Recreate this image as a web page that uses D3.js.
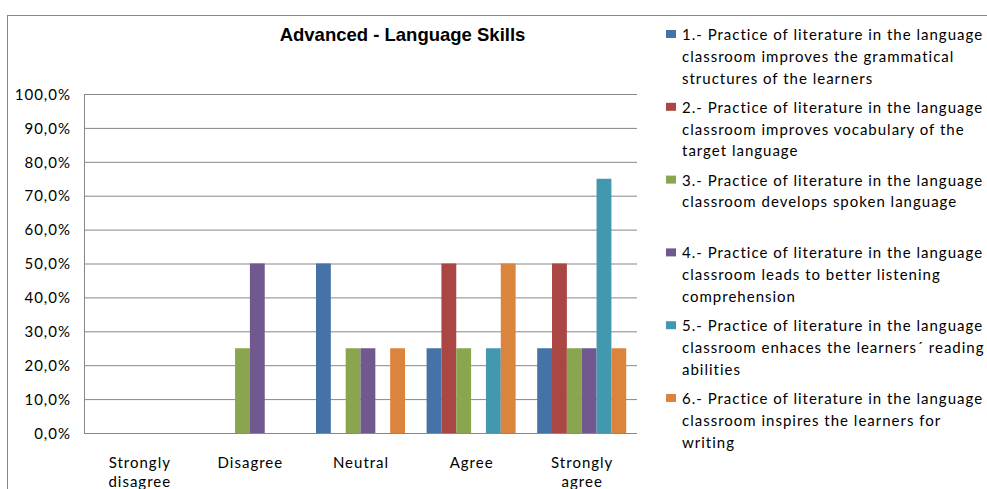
<!DOCTYPE html>
<html>
<head>
<meta charset="utf-8">
<script src="https://cdn.jsdelivr.net/npm/d3@7"></script>
<style>
  body { margin: 0; background: #fff; }
  svg { display: block; }
  .axis text { font-family: Lato, "Open Sans", sans-serif; font-size: 15px; fill: #000; }
  .axis .domain { display: none; }
  .grid line { stroke: #878787; }
  .legend text { font-family: Lato, "Open Sans", sans-serif; font-size: 15px; fill: #000; letter-spacing: 1px; }
  .title { font-family: Arial, "Liberation Sans", sans-serif; font-weight: bold; font-size: 18.5px; fill: #000; }
</style>
</head>
<body>
<svg id="chart" width="987" height="489"></svg>
<script>
// chart data
const categories = ["Strongly disagree", "Disagree", "Neutral", "Agree", "Strongly agree"];
const categoryLines = [["Strongly", "disagree"], ["Disagree"], ["Neutral"], ["Agree"], ["Strongly", "agree"]];

const s1 = [0, 0, 0.50, 0.25, 0.25];
const s2 = [0, 0, 0, 0.50, 0.50];
const s3 = [0, 0.25, 0.25, 0.25, 0.25];
const s4 = [0, 0.50, 0.25, 0, 0.25];
const s5 = [0, 0, 0, 0.25, 0.75];
const s6 = [0, 0, 0.25, 0.50, 0.25];
const seriesValues = [s1, s2, s3, s4, s5, s6];

const seriesColors = ["#4572A7", "#AA4643", "#89A54E", "#71588F", "#4198AF", "#DB843D"];

const legendLines = [
    ["1.- Practice of literature in the language", "classroom improves the grammatical", "structures of the learners"],
    ["2.- Practice of literature in the language", "classroom improves vocabulary of the", "target language"],
    ["3.- Practice of literature in the language", "classroom develops spoken language"],
    ["4.- Practice of literature in the language", "classroom leads to better listening", "comprehension"],
    ["5.- Practice of literature in the language", "classroom enhaces the learners\u00B4 reading", "abilities"],
    ["6.- Practice of literature in the language", "classroom inspires the learners for", "writing"]
];

const yTicks = [0, 0.1, 0.2, 0.3, 0.4, 0.5, 0.6, 0.7, 0.8, 0.9, 1.0];

// layout
const plot = {left: 84, right: 637, top: 94, bottom: 433};
const w = plot.right - plot.left, h = plot.bottom - plot.top;

const svg = d3.select("#chart");

// outer frame (runs past the window on right and bottom)
svg.append("rect")
    .attr("x", 7.5).attr("y", 15.5)
    .attr("width", 1100).attr("height", 600)
    .attr("fill", "none")
    .attr("stroke", "#878787");

svg.append("text")
    .attr("class", "title")
    .attr("x", 402.5).attr("y", 41)
    .attr("text-anchor", "middle")
    .text("Advanced - Language Skills");

const g = svg.append("g").attr("transform", `translate(${plot.left},${plot.top})`);

const x0 = d3.scaleBand()
    .domain(categories)
    .range([0, w])
    .paddingInner(0.195)
    .paddingOuter(0.0975);

const x1 = d3.scaleBand()
    .domain(d3.range(seriesValues.length))
    .range([0, x0.bandwidth()]);

const y = d3.scaleLinear().domain([0, 1]).range([h, 0]);

const locale = d3.formatLocale({decimal: ",", thousands: ".", grouping: [3], currency: ["", "\u20AC"]});
const pct = locale.format(".1%");

// y axis with gridlines
g.append("g")
    .attr("class", "axis grid")
    .call(d3.axisLeft(y).tickValues(yTicks).tickFormat(pct)
        .tickSizeInner(-w).tickSizeOuter(0).tickPadding(14))
    .call(a => a.selectAll("text").attr("dy", "0.35em").style("letter-spacing", "1px").attr("dx", "1px"));

// left axis line
g.append("line")
    .attr("x1", 0.5).attr("x2", 0.5)
    .attr("y1", 0).attr("y2", h)
    .attr("stroke", "#878787");

// bars
const rows = [];
categories.forEach((c, ci) => {
    seriesValues.forEach((vals, si) => {
        rows.push({cat: c, series: si, value: vals[ci]});
    });
});

g.append("g").selectAll("rect")
    .data(rows.filter(d => d.value > 0))
    .join("rect")
    .attr("x", d => x0(d.cat) + x1(d.series))
    .attr("y", d => y(d.value))
    .attr("width", x1.bandwidth())
    .attr("height", d => h - y(d.value))
    .attr("fill", d => seriesColors[d.series]);

// category labels
const xa = g.append("g").attr("class", "axis");
xa.selectAll("text")
    .data(categories)
    .join("text")
    .attr("text-anchor", "middle")
    .style("letter-spacing", "1px")
    .attr("transform", d => `translate(${x0(d) + x0.bandwidth() / 2 + 0.5},${h + 34.5})`)
    .each(function(d, i) {
        d3.select(this).selectAll("tspan")
            .data(categoryLines[i])
            .join("tspan")
            .attr("x", 0)
            .attr("y", (t, k) => k * 19.5)
            .text(t => t);
    });

// legend
const legend = svg.append("g").attr("class", "legend")
    .attr("transform", "translate(666,40)");

const item = legend.selectAll("g")
    .data(legendLines)
    .join("g")
    .attr("transform", (d, i) => `translate(0,${i * 72.8})`);

item.append("rect")
    .attr("x", 0).attr("y", -10)
    .attr("width", 10).attr("height", 8)
    .attr("fill", (d, i) => seriesColors[i]);

item.append("text")
    .selectAll("tspan")
    .data(d => d)
    .join("tspan")
    .attr("x", 16)
    .attr("y", (t, k) => k * 21.8)
    .text(t => t);
</script>
</body>
</html>
